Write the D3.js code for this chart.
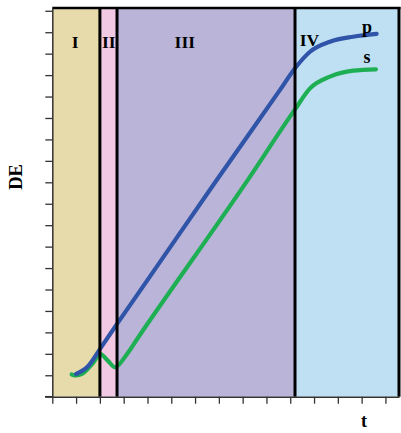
<!DOCTYPE html>
<html><head><meta charset="utf-8">
<script src="https://cdn.jsdelivr.net/npm/d3@7"></script>
<style>html,body{margin:0;padding:0;background:#fff;}svg{display:block;}</style>
</head><body>
<script>
// Phase regions (t units)
const phaseNames = ["I", "II", "III", "IV"];
const phaseStart = [0, 2.0, 2.72, 10.2];
const phaseEnd = [2.0, 2.72, 10.2, 14.57];
const phaseColors = ["#e8dbab", "#f2c9e2", "#bab4d9", "#bfe0f3"];
const phaseLabelX = [0.96, 2.37, 5.57, 10.4];

// Series p (blue)
const pT = [1.0, 1.5, 2.05, 2.78, 4.10, 6.91, 9.57, 10.20, 10.83, 11.67, 12.64, 13.63];
const pDE = [1.06, 1.42, 2.30, 3.49, 5.60, 10.11, 14.31, 15.32, 16.09, 16.56, 16.79, 16.92];
// Series s (green)
const sT = [0.815, 1.0, 1.25, 1.71, 2.02, 2.34, 2.64, 3.05, 3.68, 8.24, 10.20, 10.83, 11.67, 12.64, 13.60];
const sDE = [1.04, 0.99, 1.06, 1.57, 1.99, 1.67, 1.37, 1.85, 2.88, 10.15, 13.40, 14.38, 14.93, 15.21, 15.27];

const xTicks = d3.range(0, 15);
const yTicks = d3.range(0, 19);

const W = 401, H = 433;
const svg = d3.select("body").append("svg").attr("width", W).attr("height", H);

const x = d3.scaleLinear().domain([0, 14.57]).range([52.3, 399]);
const y = d3.scaleLinear().domain([0, 18.13]).range([396.7, 8]);

// backgrounds
svg.selectAll("rect.phase").data(phaseNames).join("rect")
  .attr("x", (d, i) => x(phaseStart[i]))
  .attr("y", y(18.13))
  .attr("width", (d, i) => x(phaseEnd[i]) - x(phaseStart[i]))
  .attr("height", y(0) - y(18.13))
  .attr("fill", (d, i) => phaseColors[i]);

// lines
const line = d3.line().x(d => x(d[0])).y(d => y(d[1])).curve(d3.curveMonotoneX);
svg.append("path").datum(sT.map((t, i) => [t, sDE[i]]))
  .attr("d", line).attr("fill", "none").attr("stroke", "#1eaf55")
  .attr("stroke-width", 4.2).attr("stroke-linecap", "round").attr("stroke-linejoin", "round");
svg.append("path").datum(pT.map((t, i) => [t, pDE[i]]))
  .attr("d", line).attr("fill", "none").attr("stroke", "#2f54a8")
  .attr("stroke-width", 4.2).attr("stroke-linecap", "round").attr("stroke-linejoin", "round");

// boundary lines
svg.selectAll("line.bnd").data(phaseEnd).join("line")
  .attr("x1", d => x(d)).attr("x2", d => x(d))
  .attr("y1", y(18.13) - 1).attr("y2", y(0))
  .attr("stroke", "#000").attr("stroke-width", 3);
svg.append("line").attr("x1", x(0)).attr("x2", x(14.57) + 1.5)
  .attr("y1", y(18.13)).attr("y2", y(18.13))
  .attr("stroke", "#000").attr("stroke-width", 2.5);

// axes
const yAxis = svg.append("g").attr("transform", `translate(${x(0)},0)`)
  .call(d3.axisLeft(y).tickValues(yTicks).tickFormat("").tickSize(7).tickSizeOuter(0));
const xAxis = svg.append("g").attr("transform", `translate(0,${y(0)})`)
  .call(d3.axisBottom(x).tickValues(xTicks).tickFormat("").tickSize(7).tickSizeOuter(0));
[yAxis, xAxis].forEach(g => {
  g.selectAll("path.domain").attr("stroke", "#333").attr("stroke-width", 1.5);
  g.selectAll(".tick line").attr("stroke", "#333").attr("stroke-width", 1.3);
});
svg.append("line").attr("x1", 45).attr("x2", x(0)).attr("y1", y(0)).attr("y2", y(0))
  .attr("stroke", "#333").attr("stroke-width", 1.5);

// labels
const font = "'Liberation Serif', 'Times New Roman', serif";
svg.selectAll("text.phase").data(phaseNames).join("text")
  .attr("x", (d, i) => x(phaseLabelX[i])).attr("y", (d, i) => i === 3 ? 46 : 48)
  .attr("text-anchor", (d, i) => i === 3 ? "start" : "middle")
  .attr("font-family", font).attr("font-weight", "bold").attr("font-size", 17.5)
  .attr("fill", "#000").text(d => d);
svg.append("text").attr("x", 367).attr("y", 33).attr("text-anchor", "middle")
  .attr("font-family", font).attr("font-weight", "bold").attr("font-size", 18).attr("fill", "#000").text("p");
svg.append("text").attr("x", 367).attr("y", 63).attr("text-anchor", "middle")
  .attr("font-family", font).attr("font-weight", "bold").attr("font-size", 18).attr("fill", "#000").text("s");
svg.append("text").attr("x", 364).attr("y", 427).attr("text-anchor", "middle")
  .attr("font-family", font).attr("font-weight", "bold").attr("font-size", 18).attr("fill", "#000").text("t");
svg.append("text").attr("transform", "translate(22,177) rotate(-90)").attr("text-anchor", "middle")
  .attr("font-family", font).attr("font-weight", "bold").attr("font-size", 18.5).attr("fill", "#000").text("DE");
</script>
</body></html>
